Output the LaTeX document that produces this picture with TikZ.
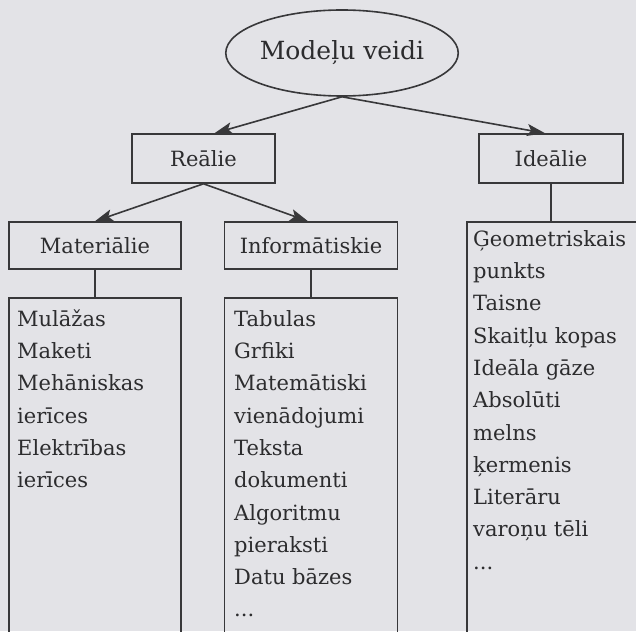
\documentclass[tikz,border=0pt]{standalone}
\usepackage{fontspec}
\setmainfont{DejaVu Serif}
\usetikzlibrary{shapes.geometric,arrows.meta,calc}
\definecolor{bg}{HTML}{E3E3E7}
\definecolor{ink}{HTML}{38383A}
\definecolor{txt}{HTML}{2C2C2E}
\begin{document}
\begin{tikzpicture}[x=1pt,y=-1pt,
  every node/.style={text=txt},
  box/.style={draw=ink, line width=1.6pt, rectangle, inner sep=0pt,
    font=\fontsize{21}{25}\selectfont},
  listbox/.style={draw=ink, line width=1.6pt, rectangle, inner sep=0pt},
  listtext/.style={anchor=north west, inner sep=0pt, align=left,
    font=\fontsize{21}{32.3}\selectfont},
  conn/.style={draw=ink, line width=1.6pt},
  arr/.style={conn, -{Stealth[length=18pt,width=12pt,inset=4pt]}}]
\fill[bg] (0,0) rectangle (636,631);
\clip (0,0) rectangle (636,631);
\useasboundingbox (0,0) rectangle (636,631);

\node[draw=ink, line width=1.6pt, ellipse, minimum width=196pt, minimum height=86pt,
  inner sep=0pt, font=\fontsize{25}{30}\selectfont] (top) at (342,53) {Modeļu veidi};

\node[box, minimum width=143pt, minimum height=49pt] (real) at (203.5,158.5) {Reālie};
\node[box, minimum width=144pt, minimum height=49pt] (ideal) at (551,158.5) {Ideālie};
\node[box, minimum width=172pt, minimum height=47pt] (mat) at (95,245.5) {Materiālie};
\node[box, minimum width=173pt, minimum height=47pt] (inf) at (311,245.5) {Informātiskie};

\node[listbox, minimum width=172pt, minimum height=362pt] (lmat) at (95,479) {};
\node[listbox, minimum width=173pt, minimum height=362pt] (linf) at (311,479) {};
\node[listbox, minimum width=193pt, minimum height=438pt] (lideal) at (563.5,441) {};

\node[listtext] (tmat) at (17,303.4) {\strut Mulāžas\\Maketi\\Mehāniskas\\ierīces\\Elektrības\\ierīces};
\node[listtext] (tinf) at (234,303.4) {\strut Tabulas\\Grfiki\\Matemātiski\\vienādojumi\\Teksta\\dokumenti\\Algoritmu\\pieraksti\\Datu bāzes\\...};
\node[listtext] (tideal) at (473,223.4) {\strut Ģeometriskais\\punkts\\Taisne\\Skaitļu kopas\\Ideāla gāze\\Absolūti\\melns\\ķermenis\\Literāru\\varoņu tēli\\...};

\draw[arr] (top.south) -- ($(real.north)+(11,0)$);
\draw[arr] (top.south) -- ($(ideal.north)+(-6,0)$);
\draw[arr] (real.south) -- (mat.north);
\draw[arr] (real.south) -- ($(inf.north)+(-3,0)$);

\draw[conn] (mat.south) -- (mat.south |- lmat.north);
\draw[conn] (inf.south) -- (inf.south |- linf.north);
\draw[conn] (ideal.south) -- (ideal.south |- lideal.north);
\end{tikzpicture}
\end{document}
